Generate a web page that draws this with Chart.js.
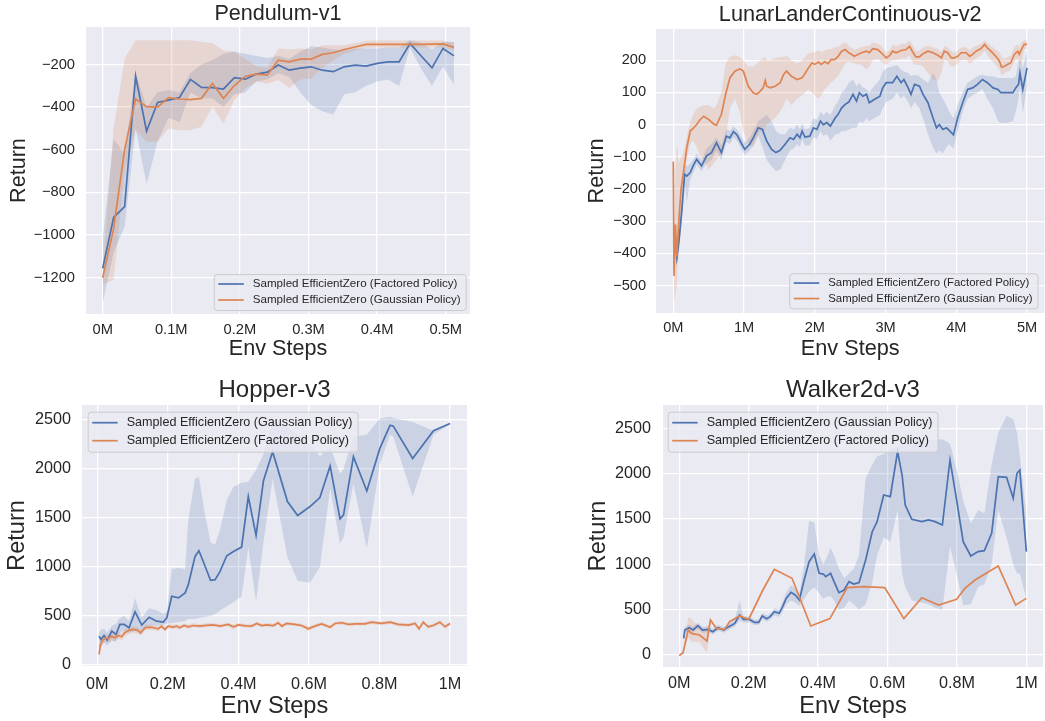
<!DOCTYPE html>
<html>
<head>
<meta charset="utf-8">
<script src="https://cdn.jsdelivr.net/npm/chart.js@4.4.0/dist/chart.umd.min.js"></script>
<style>
  html, body { margin: 0; padding: 0; background: #ffffff; }
  #fig { position: relative; width: 1045px; height: 721px; overflow: hidden; background: #ffffff; }
  #fig canvas { position: absolute; }
</style>
</head>
<body>
<div id="fig">
  <canvas id="pendulum" width="520" height="362" style="left:0px;top:0px"></canvas>
  <canvas id="lunar" width="525" height="362" style="left:520px;top:0px"></canvas>
  <canvas id="hopper" width="520" height="359" style="left:0px;top:362px"></canvas>
  <canvas id="walker" width="525" height="359" style="left:520px;top:362px"></canvas>
</div>
<script>
// ---------- Pendulum-v1 (env steps in millions) ----------
const pendSteps = [0, 0.016, 0.032, 0.048, 0.064, 0.080, 0.096, 0.112, 0.128, 0.144, 0.160, 0.176, 0.192, 0.208, 0.224, 0.240, 0.256, 0.272, 0.288, 0.304, 0.320, 0.336, 0.352, 0.368, 0.384, 0.400, 0.416, 0.432, 0.448, 0.464, 0.480, 0.496, 0.512];
const pendFactoredMean = [-1156, -917, -867, -255, -513, -378, -367, -355, -270, -308, -309, -316, -262, -269, -245, -236, -203, -227, -217, -211, -227, -234, -211, -203, -208, -195, -188, -188, -102, -159, -216, -125, -160];
const pendFactoredLow = [-1320, -1080, -960, -500, -760, -560, -450, -470, -330, -360, -360, -400, -340, -330, -280, -270, -240, -260, -330, -390, -420, -435, -340, -330, -300, -280, -270, -300, -120, -220, -300, -210, -295];
const pendFactoredHigh = [-1020, -550, -620, -240, -400, -330, -320, -330, -240, -200, -180, -150, -140, -150, -160, -170, -160, -175, -140, -115, -120, -130, -135, -125, -125, -125, -120, -120, -85, -100, -130, -95, -95];
const pendGaussMean = [-1200, -970, -598, -362, -398, -400, -356, -362, -365, -359, -289, -359, -299, -255, -245, -250, -180, -188, -175, -175, -153, -145, -130, -118, -106, -106, -106, -106, -106, -106, -105, -104, -120];
const pendGaussLow = [-1230, -1210, -700, -508, -562, -562, -500, -508, -508, -492, -398, -477, -367, -312, -280, -290, -273, -310, -270, -266, -215, -180, -150, -135, -122, -120, -120, -120, -120, -120, -120, -120, -135];
const pendGaussHigh = [-1170, -500, -172, -86, -86, -86, -86, -86, -86, -94, -100, -135, -140, -175, -210, -215, -125, -130, -125, -130, -110, -110, -110, -100, -90, -88, -88, -88, -88, -88, -88, -88, -100];
const pendXTicks = [0, 0.1, 0.2, 0.3, 0.4, 0.5];
const pendYTicks = [-1200, -1000, -800, -600, -400, -200];

// ---------- LunarLanderContinuous-v2 ----------
const lunarFactoredSteps = [0.01, 0.05, 0.08, 0.12, 0.16, 0.19, 0.24, 0.28, 0.33, 0.40, 0.47, 0.54, 0.61, 0.68, 0.75, 0.80, 0.85, 0.90, 0.97, 1.01, 1.08, 1.13, 1.20, 1.26, 1.32, 1.39, 1.45, 1.51, 1.58, 1.65, 1.70, 1.75, 1.79, 1.82, 1.86, 1.93, 1.98, 2.03, 2.08, 2.12, 2.17, 2.22, 2.29, 2.33, 2.38, 2.43, 2.48, 2.54, 2.59, 2.63, 2.68, 2.73, 2.77, 2.84, 2.92, 2.96, 3.01, 3.10, 3.16, 3.22, 3.26, 3.32, 3.36, 3.41, 3.48, 3.53, 3.60, 3.67, 3.72, 3.76, 3.81, 3.86, 3.90, 3.96, 4.02, 4.09, 4.16, 4.23, 4.30, 4.37, 4.44, 4.52, 4.59, 4.63, 4.70, 4.80, 4.84, 4.88, 4.90, 4.94, 5.00];
const lunarFactoredMean = [-330, -413, -361, -268, -154, -160, -149, -128, -108, -128, -97, -87, -56, -87, -36, -41, -22, -32, -61, -77, -61, -41, -10, -15, -51, -77, -87, -80, -61, -41, -46, -30, -41, -20, -39, -36, -10, -15, 11, 0, 6, -5, 21, 32, 52, 63, 70, 94, 73, 99, 88, 94, 68, 78, 88, 114, 130, 130, 150, 130, 140, 114, 94, 125, 119, 94, 68, 21, -10, 0, -15, -10, -18, -32, 21, 68, 109, 114, 125, 140, 130, 114, 109, 99, 99, 99, 114, 125, 161, 109, 176];
const lunarFactoredLow = [-350, -440, -390, -300, -180, -240, -170, -150, -125, -145, -120, -110, -80, -110, -55, -60, -40, -50, -80, -95, -80, -65, -35, -70, -110, -130, -145, -140, -110, -80, -75, -60, -70, -45, -65, -65, -40, -45, -20, -35, -30, -50, -30, -30, -20, -20, -15, -10, -10, 10, 5, 20, 10, 20, 30, 50, 70, 80, 100, 80, 90, 70, 50, 70, 50, 20, -30, -70, -90, -80, -90, -70, -60, -75, -20, 40, 80, 90, 100, 110, 80, 50, 10, 5, 5, 10, 40, 80, 120, 35, 120];
const lunarFactoredHigh = [-290, -370, -300, -220, -120, -130, -120, -110, -90, -110, -75, -60, -40, -65, -15, -20, -5, -15, -40, -55, -40, -20, 10, 20, 30, 10, -20, -30, -30, -10, -15, 0, -15, 5, -15, -10, 20, 15, 40, 30, 40, 30, 60, 70, 100, 110, 130, 140, 120, 130, 115, 110, 100, 120, 140, 165, 175, 180, 185, 170, 165, 160, 150, 155, 150, 140, 130, 160, 140, 100, 80, 60, 40, 20, 60, 100, 130, 140, 150, 155, 150, 150, 145, 145, 145, 145, 150, 200, 200, 175, 230];
const lunarGaussSteps = [0.00, 0.01, 0.03, 0.05, 0.08, 0.11, 0.14, 0.19, 0.24, 0.28, 0.33, 0.38, 0.43, 0.50, 0.57, 0.61, 0.68, 0.74, 0.80, 0.87, 0.94, 0.99, 1.06, 1.13, 1.18, 1.23, 1.27, 1.30, 1.32, 1.37, 1.44, 1.51, 1.56, 1.60, 1.67, 1.75, 1.82, 1.86, 1.91, 1.96, 2.00, 2.05, 2.09, 2.14, 2.19, 2.23, 2.28, 2.33, 2.38, 2.43, 2.48, 2.56, 2.66, 2.73, 2.77, 2.82, 2.89, 2.94, 3.01, 3.06, 3.10, 3.15, 3.22, 3.29, 3.34, 3.39, 3.43, 3.48, 3.53, 3.60, 3.67, 3.74, 3.79, 3.83, 3.88, 3.93, 3.97, 4.02, 4.07, 4.14, 4.19, 4.23, 4.28, 4.35, 4.40, 4.44, 4.49, 4.56, 4.61, 4.64, 4.68, 4.73, 4.77, 4.82, 4.87, 4.89, 4.92, 4.96, 5.00];
const lunarGaussMean = [-115, -470, -310, -410, -290, -200, -154, -72, -20, -12, 0, 16, 26, 16, 2, -2, 32, 94, 145, 166, 173, 166, 119, 99, 94, 104, 114, 137, 119, 114, 119, 130, 156, 166, 150, 140, 145, 158, 176, 192, 187, 194, 187, 195, 189, 202, 202, 212, 228, 233, 223, 212, 223, 228, 223, 236, 233, 223, 207, 215, 228, 223, 230, 233, 243, 223, 210, 210, 220, 228, 223, 215, 207, 228, 223, 207, 207, 212, 223, 223, 212, 218, 228, 236, 249, 238, 228, 212, 197, 178, 181, 187, 192, 218, 228, 218, 233, 249, 249];
const lunarGaussLow = [-330, -550, -530, -500, -380, -250, -200, -110, -60, -50, -70, -100, -110, -140, -120, -110, -90, -40, 50, 80, 40, -20, -60, -70, -40, -20, -30, -10, 0, 10, 20, 40, 60, 80, 60, 80, 90, 100, 110, 100, 90, 80, 90, 110, 120, 130, 140, 150, 170, 190, 195, 190, 185, 170, 180, 200, 205, 195, 185, 195, 200, 200, 205, 205, 215, 190, 185, 185, 180, 160, 140, 135, 160, 200, 195, 180, 180, 190, 200, 200, 190, 195, 205, 215, 230, 215, 200, 185, 170, 150, 160, 165, 170, 195, 205, 195, 180, 235, 235];
const lunarGaussHigh = [-100, -400, -150, -60, -120, -100, -90, -40, 10, 30, 50, 55, 60, 60, 50, 60, 100, 190, 210, 215, 210, 200, 180, 180, 190, 200, 205, 210, 200, 200, 205, 210, 210, 215, 200, 190, 200, 210, 220, 225, 225, 230, 225, 230, 235, 235, 240, 240, 250, 255, 245, 232, 240, 245, 245, 255, 252, 245, 225, 232, 248, 245, 250, 252, 262, 245, 228, 230, 240, 245, 240, 235, 225, 245, 240, 228, 225, 230, 240, 240, 230, 240, 245, 250, 262, 255, 245, 232, 225, 210, 205, 210, 215, 240, 250, 240, 255, 262, 262];
const lunarXTicks = [0, 1, 2, 3, 4, 5];
const lunarYTicks = [-500, -400, -300, -200, -100, 0, 100, 200];

// ---------- Hopper-v3 ----------
const hopperGaussSteps = [0.005, 0.010, 0.019, 0.028, 0.041, 0.053, 0.064, 0.076, 0.090, 0.107, 0.126, 0.147, 0.168, 0.187, 0.197, 0.211, 0.230, 0.249, 0.258, 0.277, 0.288, 0.302, 0.321, 0.334, 0.348, 0.367, 0.386, 0.409, 0.428, 0.450, 0.471, 0.497, 0.539, 0.568, 0.603, 0.631, 0.660, 0.688, 0.698, 0.726, 0.764, 0.801, 0.830, 0.839, 0.894, 0.953, 1.0];
const hopperGaussMean = [295, 261, 302, 254, 346, 312, 414, 414, 380, 542, 407, 488, 447, 437, 481, 702, 685, 736, 820, 1108, 1166, 1041, 864, 871, 956, 1115, 1159, 1203, 1719, 1322, 1881, 2176, 1668, 1525, 1617, 1708, 2031, 1492, 1532, 2125, 1776, 2210, 2447, 2437, 2108, 2390, 2464];
const hopperGaussLow = [130, 180, 230, 200, 250, 240, 330, 350, 330, 350, 340, 400, 400, 410, 420, 430, 440, 450, 470, 470, 480, 490, 500, 520, 560, 600, 640, 700, 1200, 650, 1250, 1900, 1100, 860, 840, 1000, 1800, 1240, 1300, 1850, 1190, 2050, 2350, 2330, 1720, 2350, 2460];
const hopperGaussHigh = [330, 360, 370, 330, 400, 420, 480, 500, 450, 680, 480, 580, 560, 520, 540, 980, 990, 980, 1480, 1900, 1920, 1600, 1250, 1230, 1380, 1680, 1820, 1860, 1870, 1990, 2150, 2500, 2430, 2350, 2250, 2130, 2230, 1950, 2000, 2330, 2350, 2515, 2532, 2520, 2480, 2390, 2470];
const hopperFactoredSteps = [0.005, 0.009, 0.017, 0.025, 0.031, 0.040, 0.050, 0.060, 0.069, 0.078, 0.091, 0.102, 0.112, 0.123, 0.135, 0.149, 0.161, 0.173, 0.182, 0.192, 0.201, 0.214, 0.225, 0.234, 0.246, 0.258, 0.272, 0.290, 0.310, 0.329, 0.348, 0.371, 0.386, 0.400, 0.420, 0.438, 0.452, 0.466, 0.480, 0.499, 0.513, 0.523, 0.537, 0.560, 0.579, 0.598, 0.617, 0.636, 0.660, 0.674, 0.693, 0.712, 0.731, 0.759, 0.777, 0.806, 0.830, 0.853, 0.882, 0.901, 0.912, 0.924, 0.938, 0.952, 0.971, 0.986, 1.0];
const hopperFactoredMean = [108, 210, 261, 278, 268, 295, 278, 302, 288, 329, 356, 363, 356, 329, 380, 386, 380, 369, 397, 363, 397, 386, 397, 380, 403, 390, 403, 397, 405, 410, 397, 414, 390, 410, 400, 397, 424, 403, 410, 403, 430, 397, 424, 414, 403, 369, 397, 420, 386, 424, 431, 415, 420, 420, 437, 424, 437, 414, 407, 424, 369, 437, 390, 403, 437, 390, 424];
const hopperFactoredLow = [85, 170, 225, 240, 230, 250, 240, 265, 250, 290, 320, 330, 320, 300, 350, 360, 355, 345, 375, 345, 375, 365, 375, 360, 385, 370, 385, 378, 388, 392, 380, 395, 360, 392, 382, 380, 405, 385, 392, 385, 410, 378, 405, 395, 385, 345, 380, 402, 368, 405, 412, 398, 402, 402, 418, 405, 418, 396, 390, 405, 345, 418, 372, 385, 415, 370, 405];
const hopperFactoredHigh = [130, 250, 300, 315, 305, 335, 318, 340, 325, 365, 390, 395, 390, 360, 410, 412, 405, 395, 420, 385, 420, 408, 420, 402, 425, 412, 425, 418, 425, 428, 415, 432, 410, 428, 418, 415, 442, 422, 428, 422, 448, 415, 442, 432, 422, 392, 415, 438, 405, 442, 450, 432, 438, 438, 455, 442, 455, 432, 425, 442, 392, 455, 410, 422, 458, 410, 442];
const mujocoXTicks = [0, 0.2, 0.4, 0.6, 0.8, 1];
const mujocoYTicks = [0, 500, 1000, 1500, 2000, 2500];

// ---------- Walker2d-v3 ----------
const walkerGaussSteps = [0.013, 0.016, 0.029, 0.040, 0.054, 0.067, 0.083, 0.097, 0.112, 0.128, 0.143, 0.160, 0.174, 0.185, 0.202, 0.217, 0.229, 0.239, 0.252, 0.262, 0.274, 0.288, 0.298, 0.308, 0.322, 0.334, 0.346, 0.360, 0.374, 0.389, 0.403, 0.415, 0.422, 0.436, 0.446, 0.460, 0.475, 0.489, 0.503, 0.518, 0.537, 0.556, 0.570, 0.589, 0.608, 0.629, 0.642, 0.651, 0.670, 0.699, 0.718, 0.737, 0.758, 0.780, 0.799, 0.818, 0.840, 0.861, 0.879, 0.900, 0.919, 0.943, 0.962, 0.973, 0.981, 1.0];
const walkerGaussMean = [184, 276, 301, 276, 324, 276, 283, 257, 301, 276, 313, 349, 441, 393, 393, 360, 360, 430, 401, 423, 478, 460, 533, 625, 691, 662, 607, 827, 1029, 1114, 901, 893, 864, 901, 809, 688, 717, 809, 783, 798, 1048, 1360, 1471, 1765, 1746, 2243, 1985, 1654, 1496, 1471, 1489, 1471, 1434, 2151, 1710, 1250, 1092, 1140, 1151, 1342, 1967, 1960, 1728, 2004, 2040, 1140];
const walkerGaussLow = [150, 240, 270, 245, 290, 245, 250, 225, 270, 245, 280, 315, 380, 360, 360, 330, 330, 395, 370, 390, 440, 420, 480, 560, 600, 580, 540, 620, 700, 750, 680, 620, 640, 650, 600, 500, 520, 600, 560, 500, 560, 800, 1100, 1300, 1250, 1600, 900, 750, 600, 580, 560, 520, 500, 1200, 900, 550, 560, 750, 780, 1000, 1600, 1300, 1000, 900, 900, 620];
const walkerGaussHigh = [220, 310, 335, 310, 360, 310, 320, 290, 335, 310, 345, 385, 600, 425, 425, 390, 390, 465, 435, 455, 515, 500, 590, 690, 770, 740, 680, 1000, 1480, 1460, 1100, 1000, 1050, 1180, 1100, 950, 850, 900, 950, 1100, 1950, 2100, 2190, 2220, 2260, 2300, 2320, 2335, 2350, 2365, 2370, 2375, 2378, 2330, 2050, 1700, 1450, 1600, 1560, 2100, 2450, 2636, 2600, 2450, 2200, 1550];
const walkerFactoredSteps = [0.0, 0.011, 0.026, 0.035, 0.059, 0.080, 0.090, 0.107, 0.131, 0.145, 0.174, 0.200, 0.241, 0.274, 0.325, 0.379, 0.434, 0.484, 0.532, 0.592, 0.647, 0.699, 0.747, 0.799, 0.823, 0.852, 0.919, 0.969, 1.0];
const walkerFactoredMean = [-7, 26, 276, 239, 221, 154, 386, 294, 283, 368, 430, 393, 717, 945, 846, 320, 401, 743, 754, 743, 401, 632, 551, 614, 735, 827, 982, 551, 625];
const walkerFactoredLow = [-7, 10, 200, 150, 140, 20, 370, 280, 283, 368, 430, 393, 717, 945, 846, 320, 401, 743, 754, 743, 401, 632, 551, 614, 735, 827, 982, 551, 625];
const walkerFactoredHigh = [-7, 40, 420, 400, 300, 290, 400, 310, 283, 368, 430, 393, 717, 945, 846, 320, 401, 743, 754, 743, 401, 632, 551, 614, 735, 827, 982, 551, 625];

// ---------- styling ----------
const FONT = '"Liberation Sans", Arial, Helvetica, sans-serif';
const INK = '#262626';
const PANEL = '#EAEAF2';
const BLUE = '#4C72B0';
const ORANGE = '#DD8452';
const BLUE_BAND = 'rgba(76,114,176,0.2)';
const ORANGE_BAND = 'rgba(221,132,82,0.2)';
const LABEL_FACTORED = 'Sampled EfficientZero (Factored Policy)';
const LABEL_GAUSS = 'Sampled EfficientZero (Gaussian Policy)';

Chart.defaults.font.family = FONT;
Chart.defaults.color = INK;

const toPoints = (xs, ys) => xs.map((x, i) => ({ x: x, y: ys[i] }));

// One run = lower band edge, upper band edge (filled down to the lower edge), mean line.
function runDatasets(label, xs, mean, low, high, color, band, lineOrder, bandOrder) {
  return [
    { data: toPoints(xs, low), borderColor: 'rgba(0,0,0,0)', borderWidth: 0, pointRadius: 0, fill: false, order: bandOrder },
    { data: toPoints(xs, high), borderColor: 'rgba(0,0,0,0)', borderWidth: 0, pointRadius: 0, fill: '-1', backgroundColor: band, order: bandOrder },
    { label: label, isRun: true, data: toPoints(xs, mean), borderColor: color, borderWidth: 1.7, pointRadius: 0, fill: false, order: lineOrder }
  ];
}

const panelBackground = {
  id: 'panelBackground',
  beforeDraw(chart) {
    const { ctx, chartArea: a } = chart;
    ctx.save();
    ctx.fillStyle = '#ffffff';
    ctx.fillRect(0, 0, chart.width, chart.height);
    ctx.fillStyle = PANEL;
    ctx.fillRect(a.left, a.top, a.right - a.left, a.bottom - a.top);
    ctx.restore();
  }
};

// Framed legend placed inside the plotting area.
function boxLegend(spec) {
  return {
    id: 'boxLegend',
    afterDraw(chart) {
      const { ctx, chartArea: a } = chart;
      const items = chart.data.datasets.filter(d => d.isRun);
      ctx.save();
      ctx.font = spec.size + 'px ' + FONT;
      const textW = Math.max(...items.map(d => ctx.measureText(d.label).width));
      const w = 4.5 + 25.5 + 9 + textW + 5;
      const h = spec.rowH * items.length + 4;
      const left = spec.corner === 'lower right' ? a.right - spec.dx - w : a.left + spec.dx;
      const top = spec.corner === 'lower right' ? a.bottom - spec.dy - h : a.top + spec.dy;
      ctx.beginPath();
      if (ctx.roundRect) ctx.roundRect(left + 0.5, top + 0.5, w, h, 3);
      else ctx.rect(left + 0.5, top + 0.5, w, h);
      ctx.fillStyle = 'rgba(234,234,242,0.8)';
      ctx.fill();
      ctx.strokeStyle = '#CCCCCC';
      ctx.lineWidth = 1;
      ctx.stroke();
      items.forEach((d, i) => {
        const cy = top + 2 + spec.rowH * (i + 0.5);
        ctx.beginPath();
        ctx.moveTo(left + 4.5, cy);
        ctx.lineTo(left + 30, cy);
        ctx.strokeStyle = d.borderColor;
        ctx.lineWidth = 1.7;
        ctx.stroke();
        ctx.fillStyle = INK;
        ctx.textAlign = 'left';
        ctx.textBaseline = 'middle';
        ctx.fillText(d.label, left + 39, cy);
      });
      ctx.restore();
    }
  };
}

const fmtNum = v => {
  const r = +Number(v).toFixed(3);
  return r < 0 ? '\u2212' + Math.abs(r) : String(r);
};

function makePanel(id, p) {
  new Chart(document.getElementById(id), {
    type: 'line',
    data: { datasets: p.datasets },
    plugins: [panelBackground, boxLegend(p.legend)],
    options: {
      responsive: false,
      animation: false,
      devicePixelRatio: 1,
      parsing: true,
      layout: { padding: p.pad },
      elements: { line: { tension: 0 }, point: { radius: 0 } },
      plugins: {
        legend: { display: false },
        tooltip: { enabled: false },
        title: {
          display: true, text: p.title, fullSize: false, color: INK,
          font: { size: p.titleSize, weight: 'normal', family: FONT },
          padding: p.titlePad
        }
      },
      scales: {
        x: {
          type: 'linear', min: p.xMin, max: p.xMax,
          afterBuildTicks: s => { s.ticks = p.xTicks.map(v => ({ value: v })); },
          afterFit: s => { s.height = p.xHeight; },
          grid: { color: '#ffffff', lineWidth: 1.3, drawTicks: false },
          border: { display: false },
          ticks: {
            autoSkip: false, maxRotation: 0, padding: p.xTickPad, color: INK,
            font: { size: p.tickSize, family: FONT },
            callback: v => fmtNum(v) + 'M'
          },
          title: {
            display: true, text: 'Env Steps', color: INK,
            font: { size: p.labelSize, family: FONT },
            padding: { top: 0, bottom: p.xTitlePad }
          }
        },
        y: {
          type: 'linear', min: p.yMin, max: p.yMax,
          afterBuildTicks: s => { s.ticks = p.yTicks.map(v => ({ value: v })); },
          afterFit: s => { s.width = p.yWidth; },
          grid: { color: '#ffffff', lineWidth: 1.3, drawTicks: false },
          border: { display: false },
          ticks: {
            autoSkip: false, padding: p.yTickPad, color: INK,
            font: { size: p.tickSize, family: FONT },
            callback: v => fmtNum(v)
          },
          title: {
            display: true, text: 'Return', color: INK,
            font: { size: p.labelSize, family: FONT },
            padding: { top: p.yTitlePad, bottom: 0 }
          }
        }
      }
    }
  });
}

makePanel('pendulum', {
  title: 'Pendulum-v1', titleSize: 21.6, titlePad: { top: 1, bottom: 0.2 },
  pad: { left: 0, right: 50, top: 0, bottom: 0 },
  yWidth: 86, xHeight: 48,
  xMin: -0.0243, xMax: 0.5354, yMin: -1370, yMax: -25,
  xTicks: pendXTicks, yTicks: pendYTicks,
  tickSize: 14.7, xTickPad: 7.4, yTickPad: 11,
  labelSize: 21.6, xTitlePad: 0, yTitlePad: 6,
  legend: { corner: 'lower right', dx: 4.3, dy: 4, size: 11.6, rowH: 16 },
  datasets: [
    ...runDatasets(LABEL_FACTORED, pendSteps, pendFactoredMean, pendFactoredLow, pendFactoredHigh, BLUE, BLUE_BAND, 1, 3),
    ...runDatasets(LABEL_GAUSS, pendSteps, pendGaussMean, pendGaussLow, pendGaussHigh, ORANGE, ORANGE_BAND, 0, 2)
  ]
});

makePanel('lunar', {
  title: 'LunarLanderContinuous-v2', titleSize: 21.7, titlePad: { top: 2.3, bottom: 0.6 },
  pad: { left: 0, right: 0.5, top: 0, bottom: 0 },
  yWidth: 136, xHeight: 49,
  xMin: -0.2446, xMax: 5.247, yMin: -585, yMax: 297,
  xTicks: lunarXTicks, yTicks: lunarYTicks,
  tickSize: 14.6, xTickPad: 6.3, yTickPad: 10,
  labelSize: 21.7, xTitlePad: 0.3, yTitlePad: 64,
  legend: { corner: 'lower right', dx: 7, dy: 4.7, size: 11.4, rowH: 15.5 },
  datasets: [
    ...runDatasets(LABEL_FACTORED, lunarFactoredSteps, lunarFactoredMean, lunarFactoredLow, lunarFactoredHigh, BLUE, BLUE_BAND, 1, 3),
    ...runDatasets(LABEL_GAUSS, lunarGaussSteps, lunarGaussMean, lunarGaussLow, lunarGaussHigh, ORANGE, ORANGE_BAND, 0, 2)
  ]
});

makePanel('hopper', {
  title: 'Hopper-v3', titleSize: 24, titlePad: { top: 14.1, bottom: 0.1 },
  pad: { left: 0, right: 53, top: 0, bottom: 0 },
  yWidth: 82, xHeight: 55,
  xMin: -0.0434, xMax: 1.048, yMin: -10, yMax: 2653,
  xTicks: mujocoXTicks, yTicks: mujocoYTicks,
  tickSize: 16.2, xTickPad: 8.4, yTickPad: 11,
  labelSize: 23.6, xTitlePad: 0.4, yTitlePad: 3.6,
  legend: { corner: 'upper left', dx: 5.7, dy: 6.7, size: 12.6, rowH: 18 },
  datasets: [
    ...runDatasets(LABEL_GAUSS, hopperGaussSteps, hopperGaussMean, hopperGaussLow, hopperGaussHigh, BLUE, BLUE_BAND, 1, 3),
    ...runDatasets(LABEL_FACTORED, hopperFactoredSteps, hopperFactoredMean, hopperFactoredLow, hopperFactoredHigh, ORANGE, ORANGE_BAND, 0, 2)
  ]
});

makePanel('walker', {
  title: 'Walker2d-v3', titleSize: 24, titlePad: { top: 14.2, bottom: 0 },
  pad: { left: 0, right: 0, top: 0, bottom: 0 },
  yWidth: 143, xHeight: 54,
  xMin: -0.0467, xMax: 1.048, yMin: -132, yMax: 2757,
  xTicks: mujocoXTicks, yTicks: mujocoYTicks,
  tickSize: 16.2, xTickPad: 7.3, yTickPad: 12,
  labelSize: 23.6, xTitlePad: 0.4, yTitlePad: 64.4,
  legend: { corner: 'upper left', dx: 4.7, dy: 6.7, size: 12.6, rowH: 18 },
  datasets: [
    ...runDatasets(LABEL_GAUSS, walkerGaussSteps, walkerGaussMean, walkerGaussLow, walkerGaussHigh, BLUE, BLUE_BAND, 1, 3),
    ...runDatasets(LABEL_FACTORED, walkerFactoredSteps, walkerFactoredMean, walkerFactoredLow, walkerFactoredHigh, ORANGE, ORANGE_BAND, 0, 2)
  ]
});
</script>
</body>
</html>
